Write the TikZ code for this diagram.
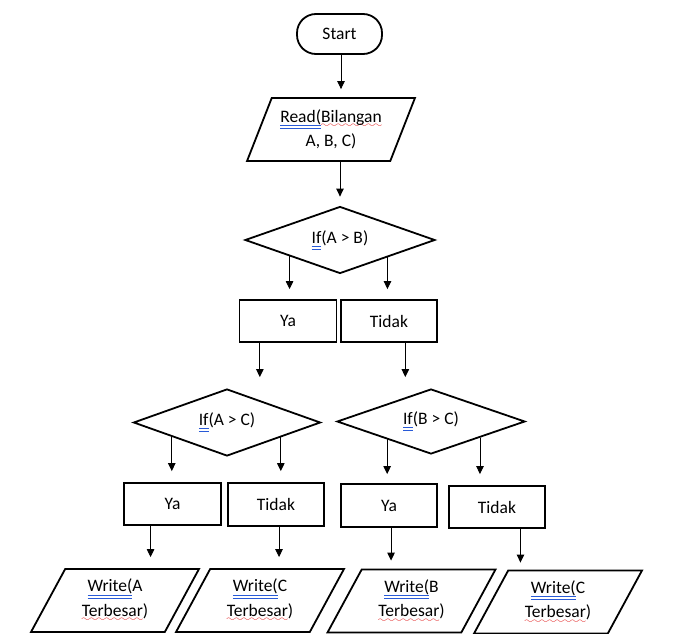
\documentclass[tikz,border=0pt]{standalone}
\usepackage{fontspec}
\setmainfont{Carlito}
\usetikzlibrary{shapes.geometric,arrows.meta,calc}
\definecolor{ulblue}{RGB}{40,90,215}
\definecolor{ulred}{RGB}{225,30,30}
\font\wavefnt=lasy6 at 9pt
\newcommand\bdu[1]{\setbox0\hbox{#1}\rlap{\color{ulblue}\rule[-3.5pt]{\wd0}{0.9pt}}\rlap{\color{ulblue}\rule[-6.5pt]{\wd0}{0.9pt}}\box0}
\newcommand\rwv[1]{\setbox0\hbox{#1}\rlap{\lower5.5pt\hbox to\wd0{\color{ulred}\xleaders\hbox{\wavefnt\char58}\hfil}}\box0}
\begin{document}
\begin{tikzpicture}[x=1pt,y=-1pt,
  every node/.style={font=\fontsize{17.5}{24.5}\selectfont},
  box/.style={draw, line width=1.8pt, minimum width=97pt, minimum height=42pt, inner sep=0pt},
  dec/.style={diamond, draw, line width=1.8pt, aspect=2.8, inner sep=0pt},
  io/.style={trapezium, trapezium left angle=62, trapezium right angle=118, trapezium stretches=true, draw, line width=1.8pt, minimum width=168pt, minimum height=63pt, inner sep=0pt, align=center},
  arr/.style={line width=0.9pt, -{Triangle[length=8pt,width=7.5pt]}}]
\useasboundingbox (0,0) rectangle (688,634);
\node[draw, line width=1.8pt, rounded corners=19pt, minimum width=85pt, minimum height=40pt] (start) at (339.5,34) {Start};
\node[io] (read) at (331,129.5) {\bdu{Read(}\rwv{Bilangan}\\A, B, C)};
\node[dec, minimum width=190pt, minimum height=67pt] (d1) at (340,240) {\bdu{If}(A > B)};
\node[box] (ya0) at (288,321) {Ya};
\node[box, minimum width=96pt] (td0) at (389,321) {Tidak};
\node[dec, minimum width=187pt, minimum height=67pt] (d2) at (227,422.5) {\bdu{If}(A > C)};
\node[dec, minimum width=188pt, minimum height=65pt] (d3) at (431,421.5) {\bdu{If}(B > C)};
\node[box] (ya1) at (172.5,504) {Ya};
\node[box, minimum width=96pt, minimum height=43pt] (td1) at (276,504.5) {Tidak};
\node[box, minimum width=96pt, minimum height=43pt] (ya2) at (389,505.5) {Ya};
\node[box, minimum width=96pt] (td2) at (497,507) {Tidak};
\node[io] (w1) at (115,600.5) {\bdu{Write(}A\\\rwv{Terbesar})};
\node[io] (w2) at (260,600.5) {\bdu{Write(}C\\\rwv{Terbesar})};
\node[io] (w3) at (411.5,601) {\bdu{Write(}B\\\rwv{Terbesar})};
\node[io] (w4) at (558,602) {\bdu{Write(}C\\\rwv{Terbesar})};
% connectors
\coordinate (s0) at ([xshift=1.5pt]start.south);
\draw[arr, shorten >=8pt] (s0) -- (s0 |- read.north);
\draw[arr, shorten >=9pt] (d1.north |- read.south) -- (d1.north);
\coordinate (a1) at ($(d1.west)!0.474!(d1.south)$);
\coordinate (a2) at ($(d1.south)!0.495!(d1.east)$);
\draw[arr, shorten >=10pt] (a1) -- (a1 |- ya0.north);
\draw[arr, shorten >=10pt] (a2) -- (a2 |- td0.north);
\coordinate (b1) at ($(ya0.south west)!0.215!(ya0.south east)$);
\coordinate (b2) at ($(td0.south west)!0.667!(td0.south east)$);
\draw[arr, shorten >=11pt] (b1) -- (b1 |- d2.north);
\draw[arr, shorten >=11pt] (b2) -- (b2 |- d3.north);
\coordinate (c1) at ($(d2.west)!0.415!(d2.south)$);
\coordinate (c2) at ($(d2.south)!0.57!(d2.east)$);
\coordinate (c3) at ($(d3.west)!0.538!(d3.south)$);
\coordinate (c4) at ($(d3.south)!0.516!(d3.east)$);
\draw[arr, shorten >=11pt] (c1) -- (c1 |- ya1.north);
\draw[arr, shorten >=11pt] (c2) -- (c2 |- td1.north);
\draw[arr, shorten >=9pt] (c3) -- (c3 |- ya2.north);
\draw[arr, shorten >=11pt] (c4) -- (c4 |- td2.north);
\coordinate (e1) at ($(ya1.south west)!0.278!(ya1.south east)$);
\coordinate (e2) at ($(td1.south west)!0.531!(td1.south east)$);
\coordinate (e3) at ($(ya2.south west)!0.521!(ya2.south east)$);
\coordinate (e4) at ($(td2.south west)!0.74!(td2.south east)$);
\draw[arr, shorten >=11pt] (e1) -- (e1 |- w1.north);
\draw[arr, shorten >=11pt] (e2) -- (e2 |- w2.north);
\draw[arr, shorten >=8pt] (e3) -- (e3 |- w3.north);
\draw[arr, shorten >=7pt] (e4) -- (e4 |- w4.north);
\end{tikzpicture}
\end{document}
